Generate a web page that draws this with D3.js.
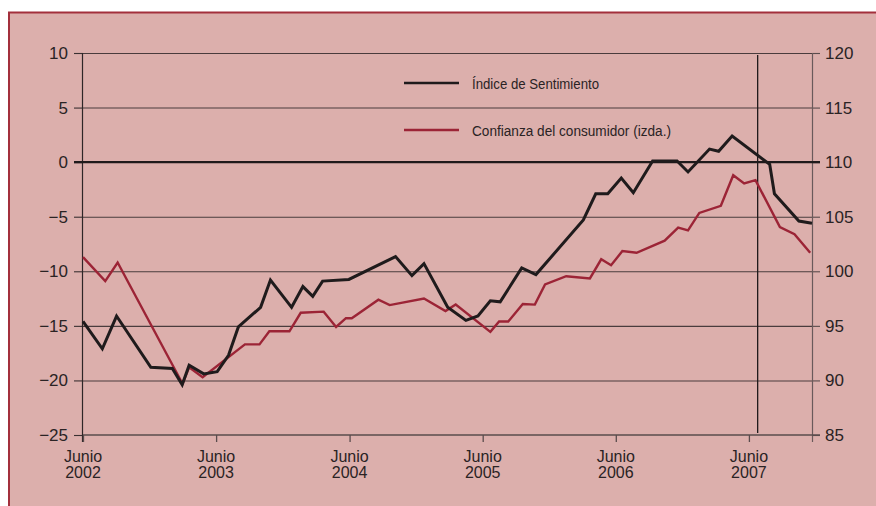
<!DOCTYPE html>
<html>
<head>
<meta charset="utf-8">
<script src="https://cdn.jsdelivr.net/npm/d3@7"></script>
<style>
  html, body { margin: 0; padding: 0; background: #ffffff; }
  svg { display: block; }
  text { font-family: "Liberation Sans", Arial, sans-serif; fill: #2a2324; }
</style>
</head>
<body>
<svg id="chart" width="876" height="506"></svg>
<script>
// Índice de Sentimiento (left axis)
const sentimientoDates = [
  "2002-06-01","2002-07-24","2002-09-01","2002-12-04","2003-02-01","2003-02-28",
  "2003-03-19","2003-04-28","2003-06-04","2003-07-05","2003-08-01","2003-10-01",
  "2003-10-28","2003-12-25","2004-01-25","2004-02-21","2004-03-19","2004-05-30",
  "2004-10-05","2004-11-19","2004-12-22","2005-02-25","2005-04-16","2005-05-19",
  "2005-06-22","2005-07-19","2005-09-16","2005-10-25","2006-03-04","2006-04-07",
  "2006-05-10","2006-06-16","2006-07-19","2006-09-10","2006-11-16","2006-12-16",
  "2007-02-13","2007-03-10","2007-04-16","2007-07-28","2007-08-10","2007-10-16",
  "2007-11-21"
];
const sentimientoValues = [
  -14.6, -17.1, -14.1, -18.8, -18.9, -20.4,
  -18.6, -19.4, -19.2, -17.7, -15.1, -13.3,
  -10.8, -13.3, -11.4, -12.3, -10.9, -10.75,
  -8.65, -10.4, -9.3, -13.3, -14.5, -14.1,
  -12.7, -12.8, -9.7, -10.3, -5.3, -2.9,
  -2.9, -1.45, -2.8, 0.1, 0.1, -0.9,
  1.2, 1.0, 2.4, -0.2, -2.9, -5.4,
  -5.6
];

// Confianza del consumidor (right axis)
const confianzaDates = [
  "2002-06-01","2002-08-01","2002-09-04","2003-03-01","2003-03-19","2003-04-25",
  "2003-08-19","2003-09-28","2003-10-25","2003-12-19","2004-01-19","2004-03-22",
  "2004-04-25","2004-05-22","2004-06-07","2004-08-19","2004-09-19","2004-12-22",
  "2005-02-19","2005-03-19","2005-06-22","2005-07-16","2005-08-10","2005-09-19",
  "2005-10-22","2005-11-19","2006-01-16","2006-03-22","2006-04-22","2006-05-19",
  "2006-06-19","2006-07-28","2006-10-13","2006-11-19","2006-12-16","2007-01-16",
  "2007-03-16","2007-04-19","2007-05-19","2007-06-19","2007-08-25","2007-10-04",
  "2007-11-16"
];
const confianzaValues = [
  101.3, 99.1, 100.8, 89.7, 91.2, 90.3,
  93.3, 93.3, 94.5, 94.5, 96.2, 96.3,
  94.9, 95.7, 95.7, 97.4, 96.9, 97.5,
  96.35, 96.95, 94.45, 95.4, 95.4, 97.0,
  96.95, 98.8, 99.55, 99.35, 101.1, 100.55,
  101.85, 101.7, 102.8, 104.0, 103.75, 105.35,
  106.0, 108.8, 108.05, 108.35, 104.05, 103.4,
  101.7
];

const leftTicks = [-25, -20, -15, -10, -5, 0, 5, 10];
const rightTicks = [85, 90, 95, 100, 105, 110, 115, 120];
const xTickDates = ["2002-06-01","2003-06-01","2004-06-01","2005-06-01","2006-06-01","2007-06-01"];
const xTickMonth = "Junio";
const xStart = "2002-06-01";
const xEnd = "2007-11-21";
const markerDate = "2007-06-25";
const legendLabels = ["Índice de Sentimiento", "Confianza del consumidor (izda.)"];

const parse = d3.timeParse("%Y-%m-%d");
const fmtNum = v => (v < 0 ? "\u2212" + Math.abs(v) : String(v));

const svg = d3.select("#chart");
const W = 876, H = 506;
const M = { left: 83, right: 812, top: 53, bottom: 435 };

// frame: pink panel with red top and left rules
svg.append("rect").attr("x", 9).attr("y", 13).attr("width", W - 9).attr("height", H - 13)
  .attr("fill", "#dcafac");
svg.append("line").attr("x1", 8).attr("x2", W).attr("y1", 12.5).attr("y2", 12.5)
  .attr("stroke", "#a3303c").attr("stroke-width", 2);
svg.append("line").attr("x1", 9).attr("x2", 9).attr("y1", 12).attr("y2", H)
  .attr("stroke", "#a3303c").attr("stroke-width", 2);

const x = d3.scaleTime().domain([parse(xStart), parse(xEnd)]).range([M.left, M.right]);
const yL = d3.scaleLinear().domain([-25, 10]).range([M.bottom, M.top]);
const yR = d3.scaleLinear().domain([85, 120]).range([M.bottom, M.top]);

// horizontal gridlines
svg.append("g").selectAll("line").data(leftTicks.filter(t => t !== 0 && t !== -25)).join("line")
  .attr("x1", M.left).attr("x2", M.right)
  .attr("y1", d => yL(d) + 0.5).attr("y2", d => yL(d) + 0.5)
  .attr("stroke", "#4a3c3d").attr("stroke-width", 1.1);

// left axis
const leftAxis = svg.append("g").attr("transform", `translate(${M.left},0)`)
  .call(d3.axisLeft(yL).tickValues(leftTicks).tickFormat(fmtNum).tickSize(9).tickPadding(6));
leftAxis.select(".domain").remove();
leftAxis.selectAll(".tick line").attr("stroke", "#3a3031").attr("stroke-width", 1.1);
leftAxis.selectAll(".tick text").attr("font-size", 17).attr("fill", "#2a2324")
  .attr("font-family", "Liberation Sans, Arial, sans-serif");

// right axis
const rightAxis = svg.append("g").attr("transform", `translate(${M.right},0)`)
  .call(d3.axisRight(yR).tickValues(rightTicks).tickSize(8).tickPadding(5));
rightAxis.select(".domain").remove();
rightAxis.selectAll(".tick line").attr("stroke", "#5a4c4d").attr("stroke-width", 1.1);
rightAxis.selectAll(".tick text").attr("font-size", 17).attr("fill", "#2a2324")
  .attr("font-family", "Liberation Sans, Arial, sans-serif");

// vertical axis rules
svg.append("line").attr("x1", M.left - 0.5).attr("x2", M.left - 0.5)
  .attr("y1", M.top).attr("y2", M.bottom + 7)
  .attr("stroke", "#2e2627").attr("stroke-width", 1.2);
svg.append("line").attr("x1", M.right + 0.5).attr("x2", M.right + 0.5)
  .attr("y1", M.top).attr("y2", M.bottom + 7)
  .attr("stroke", "#6a5a5b").attr("stroke-width", 1.2);

// bottom axis
const bottomAxis = svg.append("g").attr("transform", `translate(0,${M.bottom})`)
  .call(d3.axisBottom(x).tickValues(xTickDates.map(parse)).tickSize(7).tickFormat(() => ""));
bottomAxis.select(".domain").remove();
bottomAxis.selectAll(".tick line").attr("stroke", "#5a4c4d").attr("stroke-width", 1.3);
svg.append("line").attr("x1", M.left).attr("x2", M.right + 8)
  .attr("y1", M.bottom).attr("y2", M.bottom)
  .attr("stroke", "#5a4c4d").attr("stroke-width", 1.3);

const xLabels = svg.append("g").selectAll("text").data(xTickDates).join("text")
  .attr("x", d => x(parse(d)))
  .attr("text-anchor", "middle")
  .attr("font-size", 16);
xLabels.append("tspan").attr("x", d => x(parse(d))).attr("y", 462).text(xTickMonth);
xLabels.append("tspan").attr("x", d => x(parse(d))).attr("y", 478).text(d => d.slice(0, 4));

// zero line
svg.append("line").attr("x1", M.left - 9).attr("x2", M.right + 8)
  .attr("y1", yL(0)).attr("y2", yL(0))
  .attr("stroke", "#1f1a1b").attr("stroke-width", 2.4);

// marker for the latest observation
svg.append("line").attr("x1", x(parse(markerDate))).attr("x2", x(parse(markerDate)))
  .attr("y1", M.top + 2).attr("y2", M.bottom - 2)
  .attr("stroke", "#1f1a1b").attr("stroke-width", 1.3);

// series
const sentimiento = sentimientoDates.map((d, i) => ({ date: parse(d), value: sentimientoValues[i] }));
const confianza = confianzaDates.map((d, i) => ({ date: parse(d), value: confianzaValues[i] }));

svg.append("path").datum(confianza)
  .attr("fill", "none").attr("stroke", "#9c2436").attr("stroke-width", 2.4)
  .attr("stroke-linejoin", "miter")
  .attr("d", d3.line().x(d => x(d.date)).y(d => yR(d.value)));

svg.append("path").datum(sentimiento)
  .attr("fill", "none").attr("stroke", "#1f1b1c").attr("stroke-width", 3)
  .attr("stroke-linejoin", "miter")
  .attr("d", d3.line().x(d => x(d.date)).y(d => yL(d.value)));

// legend
const legend = svg.append("g");
const legendItems = [
  { label: legendLabels[0], color: "#1f1b1c", width: 2.6, y: 83, len: 127 },
  { label: legendLabels[1], color: "#9c2436", width: 2.6, y: 130, len: 199 }
];
legendItems.forEach(it => {
  legend.append("line").attr("x1", 404).attr("x2", 459).attr("y1", it.y).attr("y2", it.y)
    .attr("stroke", it.color).attr("stroke-width", it.width);
  legend.append("text").attr("x", 472).attr("y", it.y + 5.5)
    .attr("font-size", 15.5)
    .attr("textLength", it.len).attr("lengthAdjust", "spacingAndGlyphs")
    .text(it.label);
});
</script>
</body>
</html>
